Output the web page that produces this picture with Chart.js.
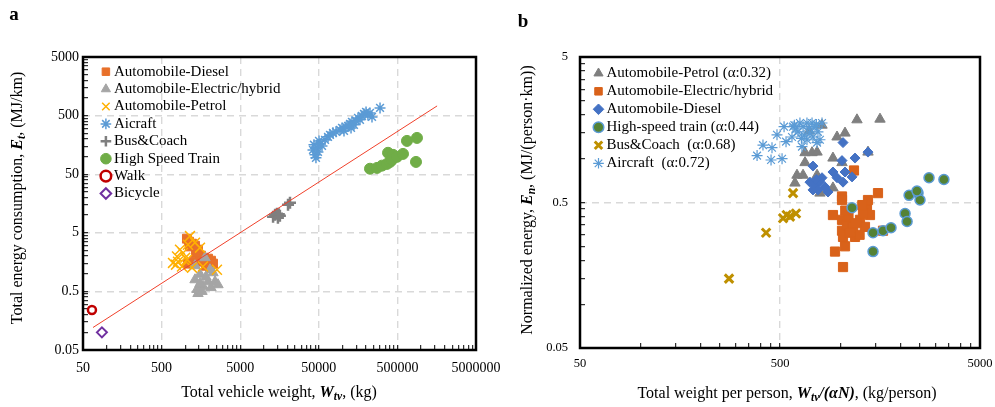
<!DOCTYPE html>
<html>
<head>
<meta charset="utf-8">
<script src="https://cdn.jsdelivr.net/npm/chart.js@4.4.1/dist/chart.umd.min.js"></script>
<style>
body { margin: 0; background: #fff; width: 995px; height: 407px; overflow: hidden; position: relative; font-family: 'Liberation Serif', serif; color: #000; }
canvas { position: absolute; top: 0; }
#chartA { left: 0; }
#chartB { left: 505px; }
.lbl { position: absolute; white-space: nowrap; font-size: 16px; transform: translate(-50%, -50%); }
.rot { transform: translate(-50%, -50%) rotate(-90deg); }
.m { font-weight: bold; font-style: italic; }
sub { font-size: 0.72em; vertical-align: -0.3em; line-height: 0; }
.panel { position: absolute; font-weight: bold; font-size: 19px; transform: translate(-50%, -50%); }
</style>
</head>
<body>
<canvas id="chartA" width="520" height="407"></canvas>
<canvas id="chartB" width="505" height="407"></canvas>

<div class="panel" style="left:14px;top:14px">a</div>
<div class="panel" style="left:523px;top:21px">b</div>
<div class="lbl" style="left:279px;top:392px">Total vehicle weight, <span class="m">W<sub>tv</sub></span>, (kg)</div>
<div class="lbl rot" style="left:17px;top:198px">Total energy consumption, <span class="m">E<sub>t</sub></span>, (MJ/km)</div>
<div class="lbl" style="left:787px;top:393px">Total weight per person, <span class="m">W<sub>tv</sub>/(αN)</span>, (kg/person)</div>
<div class="lbl rot" style="left:527px;top:200px">Normalized energy, <span class="m">E<sub>n</sub></span>, (MJ/(person·km))</div>

<script>
// ---- panel a : total vehicle weight (kg) vs energy (MJ/km)
const labelsA = ['Automobile-Diesel', 'Automobile-Electric/hybrid', 'Automobile-Petrol', 'Aicraft',
                 'Bus&Coach', 'High Speed Train', 'Walk', 'Bicycle'];
const dieselA = [[1050,3.97],[1115,3.53],[1218,3.26],[1148,2.93],[1330,3.01],[1452,2.58],[1370,2.29],[1585,2.04],
                 [1731,1.88],[1947,1.81],[2125,1.67],[2254,1.49],[1836,1.37],[1540,1.61],[1291,1.61],[1083,1.49],[2064,1.27]];
const electricA = [[1783,1.88],[1540,0.98],[1410,0.54],[1680,0.61],[1947,0.73],[2390,0.73],[2609,0.65],[2254,1.04],
                   [1330,0.79],[1452,0.46],[1633,0.50],[1836,0.88],[2064,1.17],[1540,0.68],[1330,1.37],[2125,0.58]];
const petrolA = [[1148,4.4],[698,1.53],[785,1.97],[935,2.26],[1052,1.74],[909,1.33],[1330,3.39],[1540,2.79],
                 [2530,1.17],[1680,1.33],[1218,1.27],[857,2.58],[808,1.61],[1000,1.88],[1083,3.13],[762,1.43]];
const aircraftA = [[42200,130],[44700,107],[43400,159],[47400,141],[48800,120],[51700,165],[46000,95],[50300,185],
                   [54900,152],[60000,193],[65500,217],[69400,234],[75800,254],[82800,264],[93100,285],[98700,308],
                   [104600,274],[110900,321],[117700,334],[124700,361],[128500,308],[132000,391],[140000,348],
                   [148600,406],[157700,457],[167000,423],[177000,494],[188000,535],[199500,578],[211000,514],
                   [224000,556],[237600,475],[300600,676]];
const busA = [[13100,9.4],[13900,10.2],[14700,10.6],[15100,9.0],[16000,9.8],[15500,10.4],[20300,15.1],[21500,16.3]];
const trainA = [[224000,62],[275000,64],[318000,70],[369000,75],[403000,81],[380000,116],[440000,107],[427000,88],
                [494000,99],[589000,111],[662000,185],[887000,208],[862000,81]];
const walkA = [[65,0.24]];
const bicycleA = [[87,0.10]];
const trendA = [[67,0.121],[1600000,731]];

// ---- panel b : weight per person vs normalized energy
const labelsB = ['Automobile-Petrol (α:0.32)', 'Automobile-Electric/hybrid', 'Automobile-Diesel',
                 'High-speed train (α:0.44)', 'Bus&Coach  (α:0.68)', 'Aircraft  (α:0.72)'];
const petrolB = [[1213,1.85],[1581,1.87],[964,1.41],[1057,1.50],[811,1.70],[1377,1.11],[920,1.01],[1021,0.94],
                 [667,1.10],[723,1.10],[766,1.11],[667,0.94],[608,0.77],[652,0.77],[594,0.68],[792,0.58],
                 [920,0.63],[766,0.77],[700,1.55]];
const electricB = [[1172,0.83],[1545,0.58],[1021,0.55],[920,0.41],[1021,0.38],[1021,0.32],[1033,0.29],[1081,0.35],
                   [1159,0.34],[1256,0.38],[1361,0.45],[1409,0.41],[1330,0.34],[1186,0.29],[942,0.23],[1057,0.25],
                   [1033,0.18],[1637,0.32],[1377,0.52],[1021,0.52],[1100,0.40],[1200,0.36],[1300,0.42],[1250,0.30],
                   [1120,0.31],[1060,0.44],[1290,0.48]];
const dieselB = [[1033,1.29],[1186,1.01],[1377,1.11],[1021,0.97],[731,0.89],[920,0.81],[1057,0.81],[1146,0.75],
                 [964,0.74],[1033,0.69],[706,0.69],[748,0.66],[811,0.74],[839,0.64],[774,0.61],[869,0.59],
                 [731,0.61],[790,0.70],[760,0.72]];
const trainB = [[2780,0.74],[3300,0.72],[2210,0.56],[2450,0.58],[2506,0.52],[1146,0.46],[2110,0.42],[2160,0.37],
                [1459,0.31],[1637,0.32],[1795,0.335],[1459,0.23],[2420,0.60]];
const busB = [[581,0.58],[518,0.39],[561,0.40],[601,0.42],[540,0.41],[426,0.31],[278,0.15]];
const aircraftB = [[384,1.05],[411,1.24],[451,0.98],[456,1.19],[483,1.46],[512,1.00],[524,1.66],[536,1.31],
                   [574,1.41],[581,1.66],[615,1.53],[644,1.21],[629,1.76],[652,1.66],[682,1.35],[706,1.50],
                   [723,1.76],[748,1.66],[774,1.53],[792,1.35],[811,1.76],[766,1.29],[682,1.76],[731,1.41],
                   [600,1.60],[660,1.45],[700,1.62],[760,1.72],[640,1.38],[590,1.70]];

Chart.defaults.font.family = "'Liberation Serif', serif";
Chart.defaults.color = '#000';

const pts = arr => arr.map(p => ({ x: p[0], y: p[1] }));

function isMajor(v) {
    const r = Math.log10(v / 5);
    return Math.abs(r - Math.round(r)) < 1e-6;
}

function fmt(v) {
    return String(parseFloat(v.toPrecision(4)));
}

// decades start at 5*10^n, minor ticks at 5*k*10^n like the excel axis
function logTicks(min, max) {
    const out = [];
    for (let d = min; d <= max * 1.0001; d *= 10) {
        for (let k = 1; k <= 9; k++) {
            const v = parseFloat((d * k).toPrecision(6));
            if (v <= max * 1.0001) out.push({ value: v });
        }
    }
    return out;
}

function logAxis(min, max, isX, size, pad, fontSize) {
    return {
        type: 'logarithmic',
        position: isX ? 'bottom' : 'left',
        min: min,
        max: max,
        afterBuildTicks: axis => { axis.ticks = logTicks(min, max); },
        afterFit: axis => { if (isX) axis.height = size; else axis.width = size; },
        ticks: {
            autoSkip: false, maxRotation: 0, padding: pad, color: '#000',
            font: { size: fontSize },
            callback: v => isMajor(v) ? fmt(v) : ''
        },
        grid: {
            color: ctx => (ctx.tick && isMajor(ctx.tick.value)) ? '#d9d9d9' : 'rgba(0,0,0,0)',
            lineWidth: 1.4,
            tickLength: -5,
            tickColor: '#000',
            tickWidth: 1,
            tickBorderDash: []
        },
        border: { display: false, dash: [7, 5] }
    };
}

const frame = {
    id: 'frame',
    afterDraw(chart) {
        const { ctx, chartArea: a } = chart;
        ctx.save();
        ctx.strokeStyle = '#000';
        ctx.lineWidth = 2.5;
        ctx.strokeRect(a.left, a.top, a.right - a.left, a.bottom - a.top);
        ctx.restore();
    }
};

// put the in-plot legend where the reference has it (and don't clip the markers)
const legendShift = {
    id: 'legendShift',
    afterLayout(chart, args, opts) {
        const lg = chart.legend;
        if (!lg) return;
        const a = chart.chartArea;
        lg.left = a.left + opts.dx;
        lg.top = a.top + opts.dy;
        lg.right = lg.left + lg.width;
        lg.bottom = lg.top + lg.height;
        if (typeof lg._draw === 'function' && !lg._noClip) {
            lg.draw = function () { if (this.options.display) this._draw(); };
            lg._noClip = true;
        }
    }
};

function series(label, data, style, radius, fill, stroke, width, order) {
    return {
        label: label,
        data: pts(data),
        pointStyle: style,
        pointRadius: radius,
        pointBackgroundColor: fill,
        pointBorderColor: stroke,
        pointBorderWidth: width,
        backgroundColor: fill,
        borderColor: stroke,
        order: order
    };
}

function legendOpts(pad, dx, dy) {
    return {
        legend: {
            position: 'chartArea',
            align: 'start',
            labels: {
                usePointStyle: true, boxWidth: 1, boxHeight: 7.5, padding: pad, color: '#000',
                font: { size: 15 },
                filter: (item, data) => !data.datasets[item.datasetIndex].noLegend,
                sort: (a, b) => a.datasetIndex - b.datasetIndex
            }
        },
        tooltip: { enabled: false },
        legendShift: { dx: dx, dy: dy }
    };
}

new Chart(document.getElementById('chartA'), {
    type: 'scatter',
    data: {
        datasets: [
            series(labelsA[0], dieselA, 'rect', 6.3, '#E8702A', '#E8702A', 1, 9),
            series(labelsA[1], electricA, 'triangle', 6, '#A5A5A5', '#A5A5A5', 1, 8),
            series(labelsA[2], petrolA, 'crossRot', 7, '#FFB000', '#FFB000', 1.5, 7),
            series(labelsA[3], aircraftA, 'star', 5.5, '#5B9BD5', '#5B9BD5', 1.5, 6),
            series(labelsA[4], busA, 'cross', 6, '#7F7F7F', '#7F7F7F', 2.5, 5),
            series(labelsA[5], trainA, 'circle', 5.5, '#70AD47', '#70AD47', 1, 4),
            series(labelsA[6], walkA, 'circle', 4, '#FFFFFF', '#C00000', 2.5, 3),
            series(labelsA[7], bicycleA, 'rectRot', 5, '#FFFFFF', '#7030A0', 2, 2),
            {
                label: 'trend', noLegend: true, data: pts(trendA), showLine: true,
                borderColor: '#F0402A', borderWidth: 1, pointRadius: 0, order: 0
            }
        ]
    },
    options: {
        responsive: false,
        animation: false,
        events: [],
        layout: { padding: { left: 23, right: 44, top: 57, bottom: 17 } },
        scales: {
            x: logAxis(50, 5000000, true, 40, 14.6, 14),
            y: logAxis(0.05, 5000, false, 60, 9, 14)
        },
        plugins: legendOpts(2.4, 20, 4.8)
    },
    plugins: [frame, legendShift]
});

new Chart(document.getElementById('chartB'), {
    type: 'scatter',
    data: {
        datasets: [
            series(labelsB[0], petrolB, 'triangle', 6, '#7F7F7F', '#7F7F7F', 1, 6),
            series(labelsB[1], electricB, 'rect', 6.5, '#D9621A', '#D9621A', 1, 5),
            series(labelsB[2], dieselB, 'rectRot', 5, '#4472C4', '#4472C4', 1, 4),
            series(labelsB[3], trainB, 'circle', 5, '#548235', '#5B9BD5', 1.5, 3),
            series(labelsB[4], busB, 'crossRot', 6, '#BF9000', '#BF9000', 3, 2),
            series(labelsB[5], aircraftB, 'star', 5.5, '#5B9BD5', '#5B9BD5', 1.2, 1)
        ]
    },
    options: {
        responsive: false,
        animation: false,
        events: [],
        layout: { padding: { left: 20, right: 30, top: 57, bottom: 19 } },
        scales: {
            x: logAxis(50, 5000, true, 40, 13.5, 12.5),
            y: logAxis(0.05, 5, false, 55, 17, 12.5)
        },
        plugins: legendOpts(3, 15, 5.8)
    },
    plugins: [frame, legendShift]
});
</script>
</body>
</html>
